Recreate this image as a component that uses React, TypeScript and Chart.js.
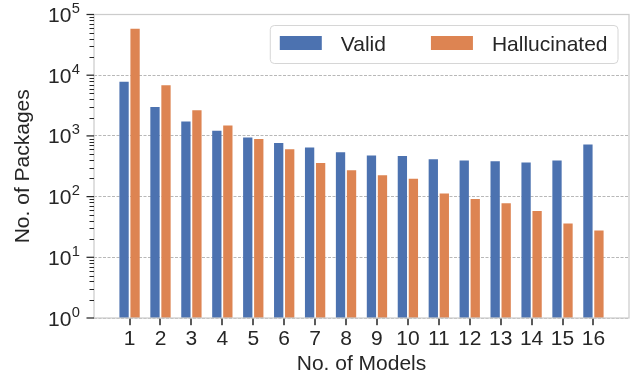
import React, { useEffect, useRef } from 'react';
import { Chart, registerables } from 'chart.js';

Chart.register(...registerables);

// ---- data ----
const models = [1, 2, 3, 4, 5, 6, 7, 8, 9, 10, 11, 12, 13, 14, 15, 16];
const xTickLabels = ['1', '2', '3', '4', '5', '6', '7', '8', '9', '10', '11', '12', '13', '14', '15', '16'];
const validPackages = [7800, 2990, 1720, 1220, 937, 765, 641, 537, 474, 468, 412, 393, 382, 364, 393, 719];
const hallucinatedPackages = [58200, 6800, 2640, 1490, 889, 602, 358, 272, 225, 196, 112, 91, 78, 58, 36, 27.7];
const seriesNames = ['Valid', 'Hallucinated'];
const seriesColors = ['#4C72B0', '#DD8452'];
const yTickValues = [1, 10, 100, 1000, 10000, 100000];
const yTickBase = '10';
const yTickExponents = ['0', '1', '2', '3', '4', '5'];
const xTitle = 'No. of Models';
const yTitle = 'No. of Packages';

const FONT = '"Liberation Sans", Arial, Helvetica, sans-serif';
const INK = '#262626';
const FS = 21;

const decorPlugin = {
  id: 'decor',
  afterDraw(chart: any) {
    const { ctx, chartArea: a, scales } = chart;
    const y = scales.y;
    const xs = scales.x;
    ctx.save();
    ctx.setLineDash([]);

    // frame
    ctx.strokeStyle = '#cccccc';
    ctx.lineWidth = 1.25;
    ctx.strokeRect(a.left, a.top, a.right - a.left, a.bottom - a.top);

    // x ticks
    ctx.fillStyle = INK;
    models.forEach((m) => {
      const px = xs.getPixelForValue(m);
      ctx.fillRect(Math.round(px) - 0.75, a.bottom + 0.7, 1.5, 6.5);
    });

    // y minor ticks
    ctx.strokeStyle = INK;
    ctx.lineWidth = 1;
    for (let e = 0; e < yTickValues.length - 1; e++) {
      for (let m = 2; m <= 9; m++) {
        const py = Math.round(y.getPixelForValue(m * yTickValues[e])) + 0.5;
        ctx.beginPath();
        ctx.moveTo(a.left - 4.5, py);
        ctx.lineTo(a.left, py);
        ctx.stroke();
      }
    }
    // y major ticks + labels
    ctx.lineWidth = 1.25;
    const labelRight = a.left - 14;
    yTickValues.forEach((v, i) => {
      const py = y.getPixelForValue(v);
      ctx.beginPath();
      ctx.moveTo(a.left - 7.5, py);
      ctx.lineTo(a.left, py);
      ctx.stroke();

      ctx.fillStyle = INK;
      ctx.textBaseline = 'alphabetic';
      ctx.textAlign = 'right';
      ctx.font = `${FS * 0.7}px ${FONT}`;
      const expW = ctx.measureText(yTickExponents[i]).width;
      const base = py + FS * 0.716 / 2;
      ctx.fillText(yTickExponents[i], labelRight, base - 9);
      ctx.font = `${FS}px ${FONT}`;
      ctx.fillText(yTickBase, labelRight - expW - 0.5, base);
    });

    // legend
    ctx.font = `${FS}px ${FONT}`;
    const swW = 42, swH = 14, pad = 10, gapText = 19, gapEntry = 45, boxH = 38;
    const widths = seriesNames.map((n) => ctx.measureText(n).width);
    let total = pad * 2 + gapEntry * (seriesNames.length - 1);
    widths.forEach((w) => (total += swW + gapText + w));
    const right = a.right - 11.5;
    const top = a.top + 10.5;
    const left = right - total;
    ctx.beginPath();
    (ctx as any).roundRect(left + 0.5, top + 0.5, total, boxH, 4);
    ctx.fillStyle = 'rgba(255,255,255,0.8)';
    ctx.fill();
    ctx.strokeStyle = '#d6d6d6';
    ctx.lineWidth = 1;
    ctx.stroke();
    const cy = top + 18;
    let x = left + pad;
    seriesNames.forEach((n, i) => {
      ctx.fillStyle = seriesColors[i];
      ctx.fillRect(x, cy - swH / 2, swW, swH);
      x += swW + gapText;
      ctx.fillStyle = INK;
      ctx.textAlign = 'left';
      ctx.textBaseline = 'alphabetic';
      ctx.fillText(n, x, cy + FS * 0.716 / 2);
      x += widths[i] + gapEntry;
    });

    ctx.restore();
  },
};

export default function App() {
  const ref = useRef<HTMLCanvasElement>(null);
  useEffect(() => {
    if (!ref.current) return;
    const seriesValues = [validPackages, hallucinatedPackages];
    const chart = new Chart(ref.current, {
      type: 'bar',
      data: {
        datasets: seriesNames.map((name, i) => ({
          label: name,
          data: models.map((m, j) => ({ x: m, y: seriesValues[i][j] })),
          backgroundColor: seriesColors[i],
          borderWidth: 0,
          categoryPercentage: 0.712,
          barPercentage: 0.845,
        })),
      },
      options: {
        animation: false,
        responsive: false,
        devicePixelRatio: 1,
        layout: { padding: { top: 14.5, right: 4, left: 0, bottom: 0 } },
        plugins: { legend: { display: false }, tooltip: { enabled: false } },
        scales: {
          x: {
            type: 'linear',
            min: -0.15,
            max: 17.15,
            offset: false,
            bounds: 'data',
            afterBuildTicks: (s: any) => {
              s.ticks = models.map((v) => ({ value: v }));
            },
            afterFit: (s: any) => {
              s.height = 59;
            },
            ticks: {
              font: { family: FONT, size: FS },
              color: INK,
              padding: 9,
              autoSkip: false,
              maxRotation: 0,
              callback: (_v: any, i: number) => xTickLabels[i],
            },
            grid: {
              offset: false,
              display: true,
              drawOnChartArea: false,
              drawTicks: false,
            },
            border: { display: false },
            title: {
              display: true,
              text: xTitle,
              font: { family: FONT, size: FS },
              color: INK,
              padding: { top: 0, bottom: 0 },
            },
          },
          y: {
            type: 'logarithmic',
            min: 1,
            max: 100000,
            afterBuildTicks: (s: any) => {
              s.ticks = yTickValues.map((v) => ({ value: v }));
            },
            afterFit: (s: any) => {
              s.width = 94;
            },
            ticks: { display: false },
            grid: { drawTicks: false, color: '#b8b8b8', lineWidth: 1 },
            border: { display: false, dash: [3, 1.5] },
            title: {
              display: true,
              text: yTitle,
              font: { family: FONT, size: FS },
              color: INK,
              padding: { top: 11, bottom: 0 },
            },
          },
        },
      } as any,
      plugins: [decorPlugin],
    });
    return () => chart.destroy();
  }, []);
  return (
    <div style={{ position: 'fixed', left: 0, top: 0, width: 633, height: 377, background: '#fff' }}>
      <canvas ref={ref} width={633} height={377} />
    </div>
  );
}
